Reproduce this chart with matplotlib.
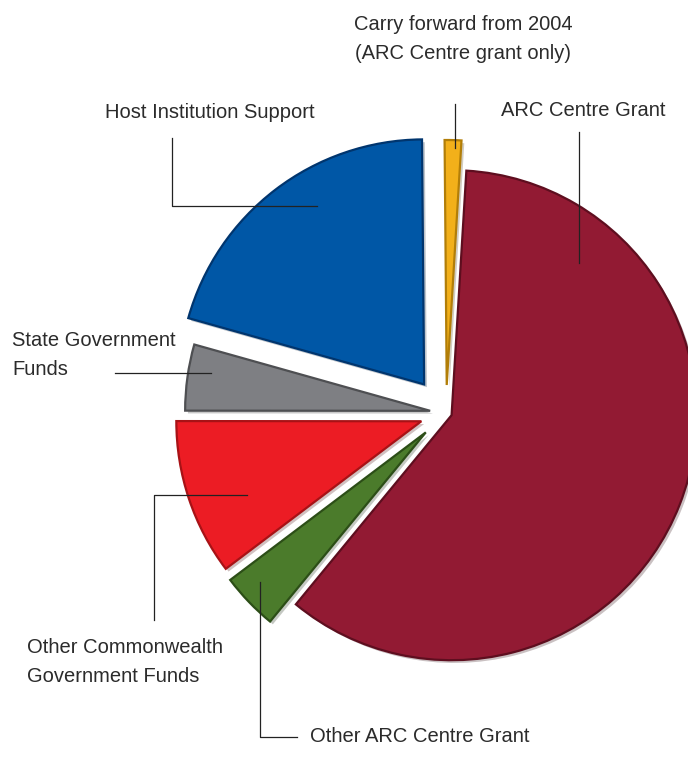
import matplotlib
matplotlib.use("Agg")
import matplotlib.pyplot as plt
import matplotlib.patheffects as pe

# slices, clockwise from 12 o'clock
labels = ["Carry forward from 2004\n(ARC Centre grant only)", "ARC Centre Grant",
          "Other ARC Centre Grant", "Other Commonwealth\nGovernment Funds",
          "State Government\nFunds", "Host Institution Support"]
shares = [1.1, 60.0, 3.75, 10.3, 4.35, 20.5]
explode = [28, 6, 28, 26, 16, 36]
colors = ["#F2B01A", "#921A33", "#4B7B2B", "#EC1C24", "#7E7F83", "#0057A6"]
edges = ["#B27E08", "#5E0E1F", "#2C4E17", "#A81216", "#4E4F52", "#00356E"]

W, H = 688, 773
fig = plt.figure(figsize=(W / 100, H / 100), dpi=100)
ax = fig.add_axes([0, 0, 1, 1])

wedges, _ = ax.pie(shares, explode=explode, colors=colors, startangle=90.5,
                   counterclock=False, radius=245, center=(446, H - 413),
                   wedgeprops=dict(linewidth=1.6))
for w, ec in zip(wedges, edges):
    w.set_edgecolor(ec)
    w.set_path_effects([pe.SimplePatchShadow(offset=(2, -2), alpha=0.25), pe.Normal()])

ax.set_xlim(0, W)
ax.set_ylim(0, H)
ax.set_aspect("equal")
ax.axis("off")

txt = dict(fontsize=14.5, color="#2b2b2b", family="Liberation Sans", linespacing=1.65)
line = dict(color="#222222", lw=0.9)

def y(p):
    return H - p

# Carry forward
ax.text(463, y(39), labels[0], ha="center", va="center", **txt)
ax.plot([455, 455], [y(104), y(148)], **line)
# ARC Centre Grant
ax.text(583, y(110), labels[1], ha="center", va="center", **txt)
ax.plot([579, 579], [y(132), y(263)], **line)
# Host
ax.text(210, y(112), labels[5], ha="center", va="center", **txt)
ax.plot([172, 172, 317], [y(138), y(206), y(206)], **line)
# State
ax.text(12, y(355), labels[4], ha="left", va="center", **txt)
ax.plot([115, 211], [y(373), y(373)], **line)
# Other Commonwealth
ax.text(27, y(662), labels[3], ha="left", va="center", **txt)
ax.plot([154, 154, 247], [y(620), y(495), y(495)], **line)
# Other ARC
ax.text(310, y(737), labels[2], ha="left", va="center", **txt)
ax.plot([260, 260, 297], [y(582), y(737), y(737)], **line)

fig.savefig("out.png", dpi=100)
